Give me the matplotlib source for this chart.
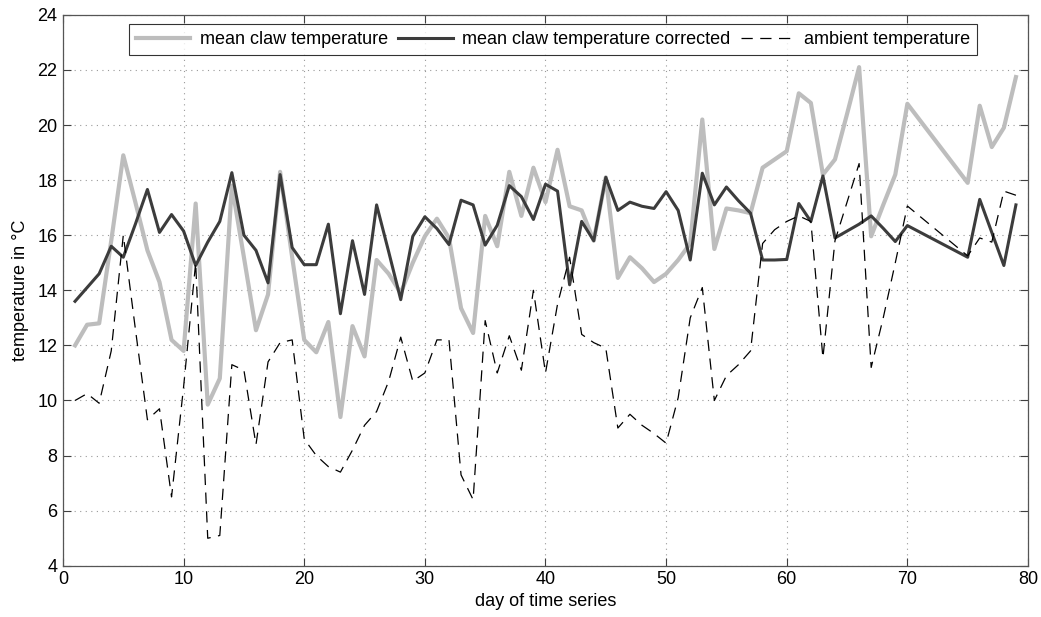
import numpy as np
import matplotlib
matplotlib.use('Agg')
import matplotlib.pyplot as plt

# day numbers (days 71-74 missing in the series)
days = [1, 2, 3, 4, 5, 6, 7, 8, 9, 10, 11, 12, 13, 14, 15, 16, 17, 18, 19, 20,
        21, 22, 23, 24, 25, 26, 27, 28, 29, 30, 31, 32, 33, 34, 35, 36, 37, 38, 39, 40,
        41, 42, 43, 44, 45, 46, 47, 48, 49, 50, 51, 52, 53, 54, 55, 56, 57, 58, 59, 60,
        61, 62, 63, 64, 65, 66, 67, 68, 69, 70, 75, 76, 77, 78, 79]

claw = [12.0, 12.75, 12.8, 15.8, 18.9, 17.2, 15.45, 14.3, 12.2, 11.8,
        17.15, 9.85, 10.8, 17.8, 15.2, 12.55, 13.85, 18.3, 15.2, 12.2,
        11.75, 12.85, 9.4, 12.7, 11.6, 15.1, 14.6, 13.9, 15.0, 15.96,
        16.6, 15.9, 13.35, 12.45, 16.7, 15.6, 18.3, 16.7, 18.45, 17.2,
        19.1, 17.05, 16.9, 15.8, 18.1, 14.45, 15.2, 14.8, 14.3, 14.6,
        15.1, 15.7, 20.2, 15.5, 16.97, 16.9, 16.8, 18.45, 18.75, 19.05,
        21.15, 20.8, 18.2, 18.75, 20.4, 22.1, 15.96, 17.1, 18.2, 20.77,
        17.9, 20.7, 19.2, 19.9, 21.74]

claw_corr = [13.6, 14.1, 14.6, 15.6, 15.2, 16.4, 17.66, 16.1, 16.75, 16.15,
             14.9, 15.75, 16.5, 18.27, 16.0, 15.45, 14.27, 18.2, 15.55, 14.93,
             14.93, 16.4, 13.15, 15.8, 13.85, 17.1, 15.4, 13.66, 15.96, 16.67,
             16.24, 15.66, 17.27, 17.1, 15.64, 16.36, 17.8, 17.4, 16.57, 17.85,
             17.6, 14.2, 16.5, 15.8, 18.1, 16.9, 17.2, 17.05, 16.97, 17.58,
             16.9, 15.1, 18.25, 17.1, 17.75, 17.25, 16.8, 15.1, 15.1, 15.12,
             17.15, 16.5, 18.15, 15.9, 16.15, 16.4, 16.7, 16.25, 15.77, 16.35,
             15.2, 17.3, 16.1, 14.9, 17.1]

ambient = [10.0, 10.25, 9.9, 11.8, 16.0, 12.6, 9.3, 9.7, 6.5, 10.5,
           15.0, 5.0, 5.1, 11.3, 11.1, 8.4, 11.4, 12.1, 12.2, 8.6,
           8.0, 7.6, 7.4, 8.2, 9.1, 9.6, 10.7, 12.3, 10.7, 11.0,
           12.2, 12.2, 7.3, 6.4, 12.9, 11.0, 12.35, 11.1, 14.0, 11.0,
           13.5, 15.2, 12.4, 12.1, 11.9, 9.0, 9.5, 9.1, 8.8, 8.45,
           10.1, 13.0, 14.1, 10.0, 10.9, 11.3, 11.8, 15.7, 16.2, 16.5,
           16.7, 16.5, 11.55, 15.8, 17.2, 18.6, 11.2, 13.0, 15.0, 17.06,
           15.25, 15.9, 15.75, 17.6, 17.45]

plt.rcParams['font.family'] = ['Liberation Sans', 'DejaVu Sans']

fig = plt.figure(figsize=(10.41, 6.17), dpi=100)
ax = fig.add_axes([0.0605, 0.083, 0.927, 0.893])

ax.plot(days, claw, color='#bdbdbd', lw=3.0, label='mean claw temperature')
ax.plot(days, claw_corr, color='#3c3c3c', lw=2.2, label='mean claw temperature corrected')
ax.plot(days, ambient, color='black', lw=0.9, dashes=(9, 6), label='ambient temperature')

ax.set_xlim(0, 80)
ax.set_ylim(4, 24)
ax.set_xticks(np.arange(0, 81, 10))
ax.set_yticks(np.arange(4, 25, 2))
ax.grid(True, color='#999999', linestyle=(0, (1, 4)), linewidth=0.8)
ax.tick_params(direction='in', top=True, right=True, length=6, width=0.8,
               labelsize=13, color='#404040', pad=4)
for s in ax.spines.values():
    s.set_color('#555555')
    s.set_linewidth(0.9)

ax.set_xlabel('day of time series', fontsize=13, labelpad=3)
ax.set_ylabel('temperature in °C', fontsize=13, labelpad=6)

leg = ax.legend(loc='upper center', ncol=3, fontsize=13, frameon=True, fancybox=False,
                edgecolor='black', handlelength=3.0, columnspacing=0.6, handletextpad=0.5,
                borderpad=0.4, borderaxespad=0, bbox_to_anchor=(0.508, 0.984))
leg.get_frame().set_linewidth(0.8)

fig.savefig('out.png', dpi=100)
